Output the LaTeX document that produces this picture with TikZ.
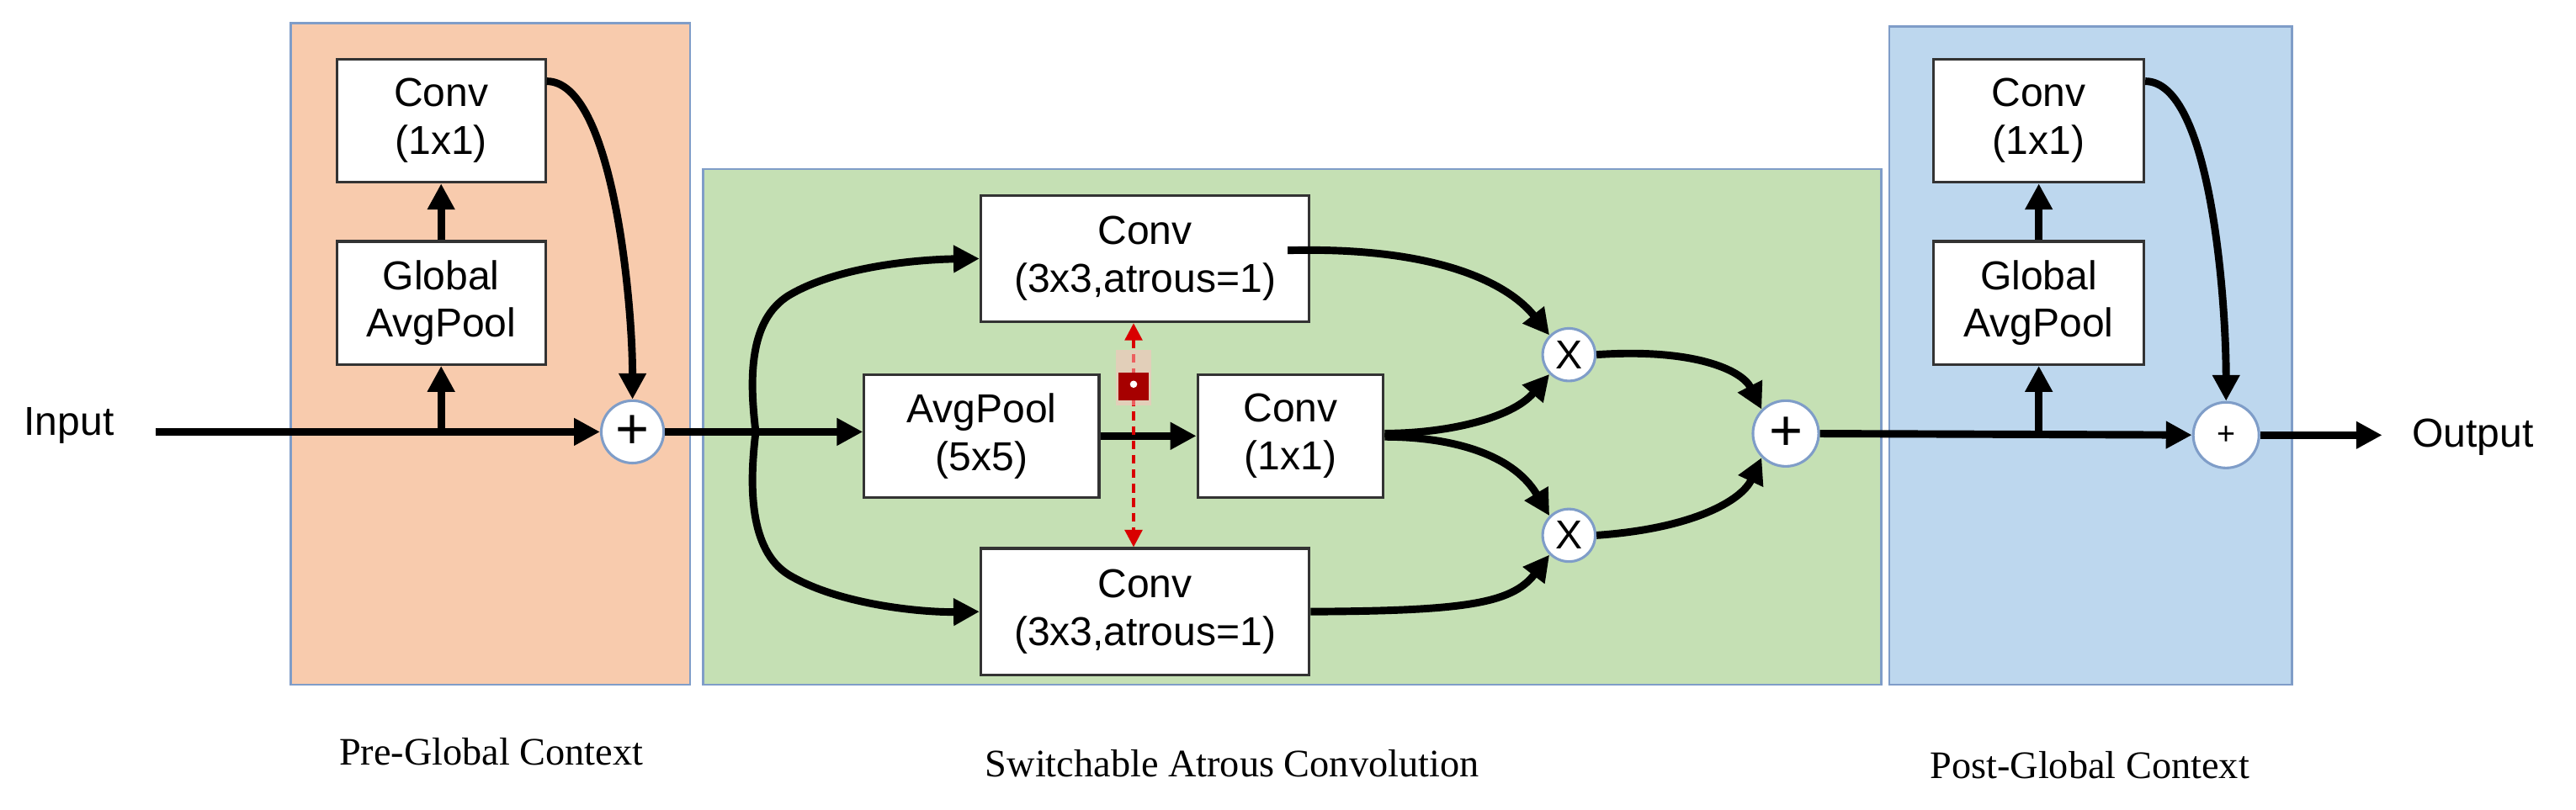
\documentclass[tikz,border=0pt]{standalone}
\usepackage{fontspec}
\setmainfont{Liberation Sans}
\newfontfamily\capfont{Liberation Serif}
\usetikzlibrary{arrows.meta,calc}
\definecolor{peach}{HTML}{F8CBAD}
\definecolor{lgreen}{HTML}{C5E0B4}
\definecolor{lblue}{HTML}{BDD7EE}
\definecolor{frame}{HTML}{7F9DC8}
\begin{document}
\begin{tikzpicture}[x=0.02cm,y=-0.02cm,
  panel/.style={draw=frame,line width=0.8pt},
  blk/.style={draw=black!80,fill=white,line width=0.9pt,align=center,font=\fontsize{14}{16.5}\selectfont,inner sep=0pt},
  op/.style={circle,draw=frame,fill=white,line width=0.9pt,inner sep=0pt,minimum size=38*0.02cm},
  ar/.style={line width=2.6pt,-{Triangle[length=9pt,width=9pt]}},
  captxt/.style={font=\capfont\fontsize{13.5}{15}\selectfont}]
\useasboundingbox (0,0) rectangle (1568,493);
% panels
\draw[panel,fill=peach] (177,14) rectangle (420,417);
\draw[panel,fill=lgreen] (428,103) rectangle (1145,417);
\draw[panel,fill=lblue] (1150,16) rectangle (1395,417);
% pre-global
\node[blk,minimum width=127*0.02cm,minimum height=75*0.02cm] (pc) at (268.5,73.5) {Conv\\(1x1)};
\node[blk,minimum width=127*0.02cm,minimum height=75*0.02cm] (pg) at (268.5,184.5) {Global\\AvgPool};
\node[font=\fontsize{14}{16}\selectfont] (in) at (42,259) {Input};
\node[op,font=\fontsize{20}{20}\selectfont] (p1) at (385,263) {+};
\coordinate (i0) at (95,263);
\coordinate (b1) at (268.5,263);
\draw[ar] (i0) -- (p1);
\draw[ar] (b1) -- (pg);
\draw[ar] (pg) -- (pc);
\draw[ar] (pc.east) ++(0,-24) .. controls +(40,0) and +(0,-60) .. (p1.north);
% switchable atrous
\node[blk,minimum width=200*0.02cm,minimum height=77*0.02cm] (ct) at (697,157.5) {Conv\\(3x3,atrous=1)};
\node[blk,minimum width=200*0.02cm,minimum height=77*0.02cm] (cb) at (697,372.5) {Conv\\(3x3,atrous=1)};
\node[blk,minimum width=143*0.02cm,minimum height=75*0.02cm] (ap) at (597.5,265.5) {AvgPool\\(5x5)};
\node[blk,minimum width=113*0.02cm,minimum height=75*0.02cm] (c1) at (785.5,265.5) {Conv\\(1x1)};
\node[op,minimum size=32*0.02cm,font=\fontsize{14}{14}\selectfont] (x1) at (955,216) {X};
\node[op,minimum size=32*0.02cm,font=\fontsize{14}{14}\selectfont] (x2) at (955,326) {X};
\node[op,minimum size=40*0.02cm,font=\fontsize{20}{20}\selectfont] (p2) at (1087,264) {+};
\coordinate (sp) at (460,263);
\draw[ar] (p1) -- (ap.west |- p1);
\draw[ar] (sp) .. controls (456,230) and (456,195) .. (480,180) .. controls (510,162) and (560,158) .. (ct.west);
\draw[ar] (sp) .. controls (456,296) and (456,335) .. (480,350) .. controls (510,368) and (560,373) .. (cb.west);
\draw[ar] (ap.east) -- (c1.west);
\draw[ar] (ct.east) ++(-14,-5) .. controls (880,150) and (920,175) .. (x1.north west);
\draw[ar] (c1.east |- 0,264) .. controls (880,264) and (920,255) .. (x1.south west);
\draw[ar] (c1.east |- 0,266) .. controls (880,266) and (920,275) .. (x2.north west);
\draw[ar] (cb.east) .. controls (890,372) and (920,368) .. (x2.south west);
\draw[ar] (x1.east) .. controls (1030,212) and (1060,225) .. (p2.north west);
\draw[ar] (x2.east) .. controls (1030,322) and (1060,305) .. (p2.south west);
% lock + dashed
\coordinate (lk) at (690,230);
\draw[red!85!black,line width=1.2pt,densely dashed,{Triangle[length=6pt,width=6pt]}-{Triangle[length=6pt,width=6pt]}] (ct.south -| lk) -- (cb.north -| lk);
\fill[white!75!red,opacity=0.5] (679,213) rectangle (701,247);
\draw[red!60!black,line width=2pt] (684,229) arc (180:0:6 and 9);
\fill[red!65!black] (681,227) rectangle (699,244);
\fill[white] (690,234) circle (2.2);
% post-global
\node[blk,minimum width=128*0.02cm,minimum height=75*0.02cm] (qc) at (1241,73.5) {Conv\\(1x1)};
\node[blk,minimum width=128*0.02cm,minimum height=75*0.02cm] (qg) at (1241,184.5) {Global\\AvgPool};
\node[op,minimum size=40*0.02cm,font=\fontsize{11}{11}\selectfont] (p3) at (1355,265) {+};
\coordinate (b2) at (1241,265);
\coordinate (o0) at (1450,265);
\node[font=\fontsize{14}{16}\selectfont,anchor=west] (out) at (1462,266) {Output};
\draw[ar] (p2) -- (p3);
\draw[ar] (b2) -- (qg);
\draw[ar] (qg) -- (qc);
\draw[ar] (qc.east) ++(0,-24) .. controls +(40,0) and +(0,-60) .. (p3.north);
\draw[ar] (p3) -- (o0);
% captions
\node[captxt] (l1) at (299,458) {Pre-Global Context};
\node[captxt] (l2) at (750,465) {Switchable Atrous Convolution};
\node[captxt] (l3) at (1272,466) {Post-Global Context};
\end{tikzpicture}
\end{document}
